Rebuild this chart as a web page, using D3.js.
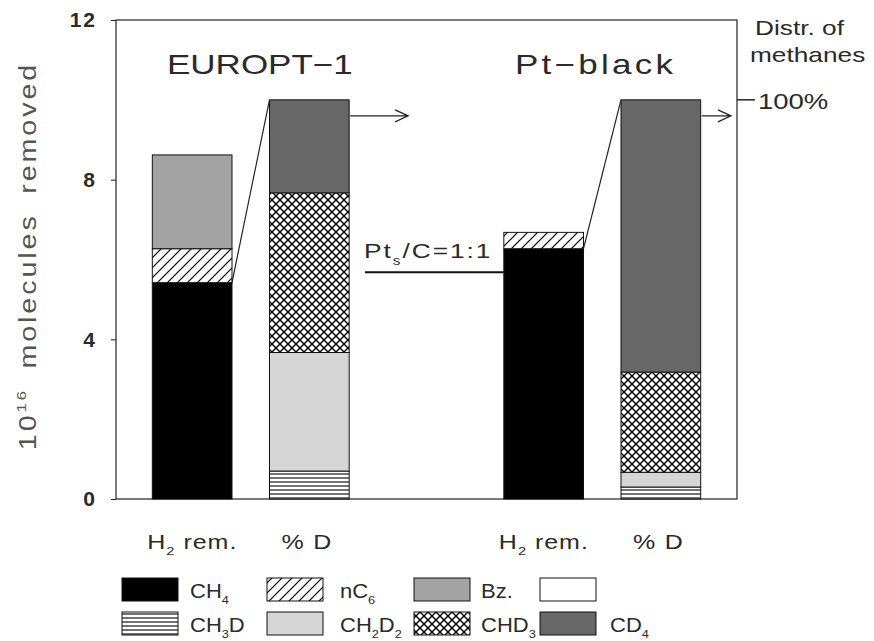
<!DOCTYPE html>
<html>
  <head>
    <meta charset="utf-8">
    <style>
      body { margin: 0; background: #fff; }
      text { font-family: "Liberation Sans", Arial, sans-serif; fill: #2a2a2a; }
    </style>
  </head>
  <body>
    <div class="chart-container"></div>
    <script src="https://cdn.jsdelivr.net/npm/d3@7"></script>
    <script>

// amounts removed, 10^16 molecules
var catalysts = ['EUROPT-1', 'Pt-black'];
var removedKeys = ['CH4', 'nC6', 'Bz'];
var ch4Removed = [5.42, 6.27];
var nC6Removed = [0.85, 0.41];
var bzRemoved = [2.35, 0];

// distribution of methanes, % of total
var methaneKeys = ['CH3D', 'CH2D2', 'CHD3', 'CD4'];
var ch3dPct = [7, 3];
var ch2d2Pct = [29.7, 3.7];
var chd3Pct = [40, 25.1];
var cd4Pct = [23.3, 68.2];

var yTicks = [0, 4, 8, 12];
var slots = ['EUROPT-1 H2', 'EUROPT-1 D', 'gap', 'Pt-black H2', 'Pt-black D'];
var ratioLevel = 5.68; // Pt_s/C = 1:1

var width = 874;
var height = 641;
var plotL = 116, plotR = 737, plotT = 20, plotB = 499;
var sx = 1.25; // the original lettering is an extended face

var svg = d3.select('.chart-container').append('svg')
    .attr('width', width)
    .attr('height', height);

var defs = svg.append('defs');

var p = defs.append('pattern').attr('id', 'hatch')
    .attr('patternUnits', 'userSpaceOnUse')
    .attr('width', 10).attr('height', 10);
p.append('rect').attr('width', 10).attr('height', 10).attr('fill', '#fff');
p.append('path').attr('d', 'M-2,12 L12,-2 M-2,2 L2,-2 M8,12 L12,8')
    .attr('stroke', '#000').attr('stroke-width', 1.2);

p = defs.append('pattern').attr('id', 'cross')
    .attr('patternUnits', 'userSpaceOnUse')
    .attr('width', 8).attr('height', 8);
p.append('rect').attr('width', 8).attr('height', 8).attr('fill', '#fff');
p.append('path').attr('d', 'M0,0 L8,8 M8,0 L0,8')
    .attr('stroke', '#000').attr('stroke-width', 1.4);

p = defs.append('pattern').attr('id', 'hlines')
    .attr('patternUnits', 'userSpaceOnUse')
    .attr('width', 8).attr('height', 4);
p.append('rect').attr('width', 8).attr('height', 4).attr('fill', '#fff');
p.append('path').attr('d', 'M0,2 L8,2')
    .attr('stroke', '#000').attr('stroke-width', 1.1);

var fills = {
  CH4: '#000', nC6: 'url(#hatch)', Bz: '#a3a3a3',
  CH3D: 'url(#hlines)', CH2D2: '#d6d6d6', CHD3: 'url(#cross)', CD4: '#676767'
};

var x = d3.scaleBand()
    .domain(slots)
    .range([plotL, plotR])
    .paddingInner(0.32)
    .paddingOuter(0.31);

var y = d3.scaleLinear()
    .domain([0, 12])
    .range([plotB, plotT]);

// percent bars are scaled so 100% sits at 10 units
var yPct = d3.scaleLinear()
    .domain([0, 100])
    .range([y(0), y(10)]);

// text helper: parts = [[string, 'sub'|'sup'|null], ...]
function label(parent, px, py, parts, size, anchor, extra, scaleX) {
  var k = scaleX || sx;
  var t = parent.append('text')
      .attr('transform', 'translate(' + px + ',' + py + ')' + (extra || '') + ' scale(' + k + ',1)')
      .attr('text-anchor', anchor || 'start')
      .attr('font-size', size);
  var shift = 0;
  parts.forEach(function (d) {
    var s = t.append('tspan').text(d[0]);
    var target = d[1] === 'sub' ? size * 0.32 : d[1] === 'sup' ? -size * 0.42 : 0;
    if (target !== shift) s.attr('dy', target - shift);
    if (d[1]) s.attr('font-size', size * 0.58);
    shift = target;
  });
  return t;
}

// frame
svg.append('rect')
    .attr('x', plotL).attr('y', plotT)
    .attr('width', plotR - plotL).attr('height', plotB - plotT)
    .attr('fill', 'none').attr('stroke', '#222').attr('stroke-width', 1.2);

var yAxis = svg.append('g')
    .attr('transform', 'translate(' + plotL + ',0)')
    .call(d3.axisLeft(y).tickValues(yTicks).tickSize(5).tickPadding(14));
yAxis.select('.domain').remove();
yAxis.selectAll('text')
    .attr('font-size', 21).attr('font-weight', 'bold')
    .attr('letter-spacing', 2)
    .attr('font-family', '"Liberation Sans", Arial, sans-serif')
    .attr('fill', '#111');
yAxis.selectAll('line').attr('stroke', '#222');

label(svg, 36, 256,
    [['10', null], ['16', 'sup'], ['  molecules  removed', null]], 23, 'middle', ' rotate(-90)')
    .attr('letter-spacing', 2.3).attr('word-spacing', 7).style('fill', '#555');

// stacked bars
var removedRows = catalysts.map(function (c, i) {
  return { slot: c + ' H2', CH4: ch4Removed[i], nC6: nC6Removed[i], Bz: bzRemoved[i] };
});
var methaneRows = catalysts.map(function (c, i) {
  return { slot: c + ' D', CH3D: ch3dPct[i], CH2D2: ch2d2Pct[i], CHD3: chd3Pct[i], CD4: cd4Pct[i] };
});

function drawStack(rows, keys, scale) {
  var series = d3.stack().keys(keys)(rows);
  svg.append('g').selectAll('g')
    .data(series)
    .join('g')
      .attr('fill', function (s) { return fills[s.key]; })
    .selectAll('rect')
    .data(function (s) { return s.filter(function (d) { return d[1] > d[0]; }); })
    .join('rect')
      .attr('x', function (d) { return x(d.data.slot); })
      .attr('width', x.bandwidth())
      .attr('y', function (d) { return scale(d[1]); })
      .attr('height', function (d) { return scale(d[0]) - scale(d[1]); })
      .attr('stroke', '#111')
      .attr('stroke-width', 1);
}
drawStack(removedRows, removedKeys, y);
drawStack(methaneRows, methaneKeys, yPct);

// connectors and arrows
catalysts.forEach(function (c, i) {
  var h2 = x(c + ' H2');
  var dx = x(c + ' D');
  svg.append('line')
      .attr('x1', h2 + x.bandwidth()).attr('y1', y(ch4Removed[i]))
      .attr('x2', dx).attr('y2', yPct(100))
      .attr('stroke', '#222').attr('stroke-width', 1.2);

  var ay = yPct(100) + 16;
  var ax0 = dx + x.bandwidth() + 1;
  var ax1 = Math.min(ax0 + 58, plotR - 6);
  svg.append('path')
      .attr('d', 'M' + ax0 + ',' + ay + 'H' + ax1 +
          'M' + (ax1 - 13) + ',' + (ay - 6) + 'L' + ax1 + ',' + ay + 'L' + (ax1 - 13) + ',' + (ay + 6))
      .attr('fill', 'none').attr('stroke', '#222').attr('stroke-width', 1.2);
});

label(svg, 167, 74, [['EUROPT\u22121', null]], 28, 'start');
label(svg, 515, 74, [['Pt\u2212black', null]], 28, 'start').attr('letter-spacing', 2.6);

// Pt_s/C line
svg.append('line')
    .attr('x1', 365).attr('x2', x('Pt-black H2'))
    .attr('y1', y(ratioLevel)).attr('y2', y(ratioLevel))
    .attr('stroke', '#111').attr('stroke-width', 2);
label(svg, 364, 258, [['Pt', null], ['s', 'sub'], ['/C=1:1', null]], 21, 'start')
    .attr('letter-spacing', 1.6);

// right side scale
svg.append('line')
    .attr('x1', plotR).attr('x2', plotR + 18)
    .attr('y1', yPct(100)).attr('y2', yPct(100))
    .attr('stroke', '#222').attr('stroke-width', 1.5);
label(svg, plotR + 21, yPct(100) + 9, [['100%', null]], 22, 'start');
label(svg, 755, 35, [['Distr.  of', null]], 21, 'start');
label(svg, 750, 62, [['methanes', null]], 21, 'start');

// bar labels
catalysts.forEach(function (c) {
  label(svg, x(c + ' H2') - 5, 549, [['H', null], ['2', 'sub'], ['  rem.', null]], 20, 'start')
      .attr('letter-spacing', 0.8);
  label(svg, x(c + ' D') + 12, 549, [['%  D', null]], 20, 'start')
      .attr('letter-spacing', 1);
});

// legend
var legendRows = [
  [['CH4', [['CH', null], ['4', 'sub']]], ['nC6', [['nC', null], ['6', 'sub']]], ['Bz', [['Bz.', null]]], [null, []]],
  [['CH3D', [['CH', null], ['3', 'sub'], ['D', null]]], ['CH2D2', [['CH', null], ['2', 'sub'], ['D', null], ['2', 'sub']]],
   ['CHD3', [['CHD', null], ['3', 'sub']]], ['CD4', [['CD', null], ['4', 'sub']]]]
];
var legendX = [122, 267, 414, 540];
var legendTextX = [190, 340, 481, 610];
var legendY = [578, 612];
legendRows.forEach(function (row, r) {
  row.forEach(function (d, k) {
    svg.append('rect')
        .attr('x', legendX[k]).attr('y', legendY[r])
        .attr('width', 56).attr('height', 23)
        .attr('fill', d[0] ? fills[d[0]] : '#fff')
        .attr('stroke', '#111').attr('stroke-width', 1);
    if (d[1].length) label(svg, legendTextX[k], legendY[r] + 20, d[1], 20, 'start', '', 1.1);
  });
});

    </script>
  </body>
</html>
